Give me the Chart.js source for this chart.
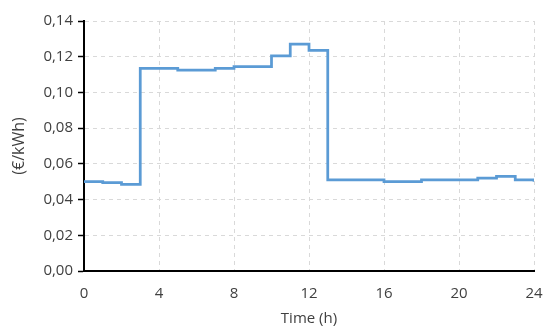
<!DOCTYPE html>
<html>
<head>
<meta charset="utf-8">
<script src="https://cdn.jsdelivr.net/npm/chart.js@4/dist/chart.umd.min.js"></script>
<style>
  html, body { margin: 0; padding: 0; background: #fff; }
  #wrap { width: 550px; height: 335px; position: relative; }
</style>
</head>
<body>
<div id="wrap"><canvas id="priceChart"></canvas></div>
<script>
// hourly price, each value holds from hour i to hour i+1
const hours = [0, 1, 2, 3, 4, 5, 6, 7, 8, 9, 10, 11, 12, 13, 14, 15, 16, 17, 18, 19, 20, 21, 22, 23, 24];
const prices = [0.050, 0.0495, 0.0485, 0.1135, 0.1135, 0.1125, 0.1125, 0.1135, 0.1145, 0.1145,
                0.1205, 0.127, 0.1235, 0.051, 0.051, 0.051, 0.050, 0.050, 0.051, 0.051,
                0.051, 0.052, 0.053, 0.051, 0.050];
const xTicks = [0, 4, 8, 12, 16, 20, 24];
const yTicks = [0, 0.02, 0.04, 0.06, 0.08, 0.10, 0.12, 0.14];

const textColor = '#404040';
const fontFamily = "'Open Sans', 'Liberation Sans', sans-serif";

const ctx = document.getElementById('priceChart').getContext('2d');
new Chart(ctx, {
    type: 'line',
    data: {
        datasets: [{
            data: hours.map((h, i) => ({ x: h, y: prices[i] })),
            borderColor: '#5b9bd5',
            borderWidth: 2.75,
            stepped: true,
            pointRadius: 0,
            fill: false
        }]
    },
    options: {
        responsive: true,
        maintainAspectRatio: false,
        animation: false,
        layout: { padding: { top: 21, right: 0, left: 0, bottom: 0 } },
        plugins: { legend: { display: false }, tooltip: { enabled: false } },
        scales: {
            x: {
                type: 'linear',
                min: 0,
                max: 24,
                afterBuildTicks: (scale) => { scale.ticks = xTicks.map(v => ({ value: v })); },
                afterFit: (scale) => {
                    scale.height = 64;
                    scale.paddingLeft = 0;
                    scale.paddingRight = 16;
                },
                ticks: { color: textColor, font: { family: fontFamily, size: 15 }, padding: 14, maxRotation: 0 },
                grid: { color: '#d9d9d9', lineWidth: 1, drawTicks: false },
                border: { display: true, color: '#000', width: 2, dash: [4, 4] },
                title: { display: true, text: 'Time (h)', color: textColor, font: { family: fontFamily, size: 15 }, padding: { top: 0, bottom: 7 } }
            },
            y: {
                min: 0,
                max: 0.14,
                afterBuildTicks: (scale) => { scale.ticks = yTicks.map(v => ({ value: v })); },
                afterFit: (scale) => { scale.width = 84; },
                ticks: {
                    color: textColor,
                    font: { family: fontFamily, size: 15 },
                    padding: 5,
                    callback: (v) => v.toFixed(2).replace('.', ',')
                },
                grid: { color: '#d9d9d9', lineWidth: 1, drawTicks: true, tickLength: 6, tickColor: '#000', tickWidth: 1.5 },
                border: { display: true, color: '#000', width: 2, dash: [4, 4] },
                title: { display: true, text: '(€/kWh)', color: textColor, font: { family: fontFamily, size: 16 }, padding: { top: 10, bottom: 0 } }
            }
        }
    }
});
</script>
</body>
</html>
